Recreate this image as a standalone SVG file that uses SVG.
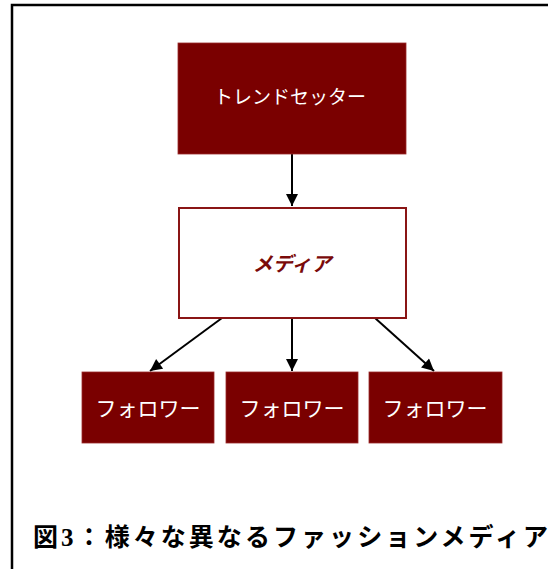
<svg xmlns="http://www.w3.org/2000/svg" width="548" height="569" viewBox="0 0 548 569">
<style>
.solid{fill:#7a0000;stroke:#9a2a2a;stroke-width:0.8}
.hollow{fill:#ffffff;stroke:#8a1515;stroke-width:2}
.wt{fill:#ffffff;font-family:"Liberation Sans","Noto Sans CJK JP",sans-serif;font-size:19px;text-anchor:middle}
.ft{font-size:21px}
.mt{fill:#7a0a0a;font-family:"Liberation Sans","Noto Sans CJK JP",sans-serif;font-size:20px;font-weight:bold;font-style:italic;text-anchor:middle}
.cap{fill:#000000;font-family:"Liberation Serif","Noto Sans CJK JP",serif;font-size:25px;font-weight:bold}
.conn{stroke:#000000;stroke-width:2;fill:none}
</style>
<defs>
<marker id="ah" viewBox="0 0 10 10" refX="10" refY="5" markerWidth="6.5" markerHeight="6" orient="auto" markerUnits="strokeWidth">
<path d="M0,0 L10,5 L0,10 z" fill="#000000"/>
</marker>
</defs>
<rect x="0" y="0" width="548" height="569" fill="#ffffff"/>
<path d="M12,569 L12,5 L548,5" fill="none" stroke="#000000" stroke-width="2.5"/>
<g id="connectors">
<line class="conn" x1="292" y1="154" x2="292" y2="206" marker-end="url(#ah)"/>
<line class="conn" x1="222" y1="318" x2="150" y2="371" marker-end="url(#ah)"/>
<line class="conn" x1="292" y1="318" x2="292" y2="371" marker-end="url(#ah)"/>
<line class="conn" x1="375" y1="318" x2="434" y2="371" marker-end="url(#ah)"/>
</g>
<g id="trendsetter">
<rect class="solid" x="178" y="43" width="228" height="111"/>
<text class="wt" x="290" y="104">トレンドセッター</text>
</g>
<g id="media">
<rect class="hollow" x="179" y="208" width="227" height="110"/>
<text class="mt" x="292" y="271">メディア</text>
</g>
<g id="follower1">
<rect class="solid" x="82" y="372" width="132" height="71"/>
<text class="wt ft" x="148" y="416">フォロワー</text>
</g>
<g id="follower2">
<rect class="solid" x="226" y="372" width="132" height="71"/>
<text class="wt ft" x="292" y="416">フォロワー</text>
</g>
<g id="follower3">
<rect class="solid" x="369" y="372" width="133" height="71"/>
<text class="wt ft" x="435" y="416">フォロワー</text>
</g>
<text class="cap" x="33" y="546" textLength="515" lengthAdjust="spacing">図3：様々な異なるファッションメディア</text>
</svg>
